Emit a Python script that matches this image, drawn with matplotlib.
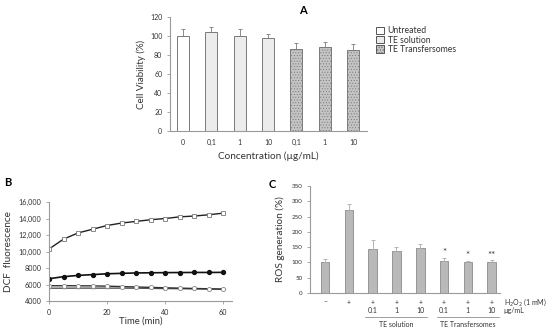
import matplotlib
matplotlib.use("Agg")
import matplotlib.pyplot as plt
import numpy as np
from matplotlib.patches import Patch

plt.rcParams['font.family'] = ['Lato', 'DejaVu Sans']
plt.rcParams['hatch.linewidth'] = 0.4

# Panel A data
a_labels = ["0", "0,1", "1", "10", "0,1", "1", "10"]
a_values = [100, 104, 100, 98, 86, 88, 85]
a_errors = [7, 6, 7, 4, 7, 6, 7]
a_groups = ["Untreated", "TE solution", "TE solution", "TE solution",
            "TE Transfersomes", "TE Transfersomes", "TE Transfersomes"]
a_yticks = [0, 20, 40, 60, 80, 100, 120]

# Panel B data
b_time = [0, 5, 10, 15, 20, 25, 30, 35, 40, 45, 50, 55, 60]
b_h2o2 = [10300, 11500, 12250, 12700, 13150, 13450, 13650, 13850, 14000, 14200, 14300, 14450, 14650]
b_black = [6700, 6950, 7100, 7200, 7300, 7350, 7400, 7420, 7440, 7450, 7460, 7460, 7470]
b_open = [5850, 5850, 5850, 5830, 5800, 5750, 5700, 5650, 5600, 5560, 5520, 5480, 5440]
b_gray = [5550, 5550, 5560, 5560, 5560, 5560, 5550, 5530, 5510, 5490, 5470, 5450, 5430]
b_yticks = [4000, 6000, 8000, 10000, 12000, 14000, 16000]
b_yticklabels = ["4000", "6000", "8000", "10,000", "12,000", "14,000", "16,000"]
b_xticks = [0, 20, 40, 60]

# Panel C data
c_values = [100, 270, 145, 137, 148, 105, 100, 102]
c_errors = [10, 20, 28, 15, 13, 10, 5, 5]
c_h2o2 = ["\u2013", "+", "+", "+", "+", "+", "+", "+"]
c_conc = ["", "", "0.1", "1", "10", "0.1", "1", "10"]
c_stars = ["", "", "", "", "", "*", "*", "**"]
c_yticks = [0, 50, 100, 150, 200, 250, 300, 350]

W, H = 550, 331
fig = plt.figure(figsize=(5.5, 3.31), dpi=100)

def ax_px(l, r, t, b):
    return fig.add_axes([l / W, (H - b) / H, (r - l) / W, (b - t) / H])

axcol = "#9a9a9a"
txtcol = "#333333"

def style(ax):
    for s in ["top", "right"]:
        ax.spines[s].set_visible(False)
    for s in ["left", "bottom"]:
        ax.spines[s].set_color(axcol)
        ax.spines[s].set_linewidth(0.8)
    ax.tick_params(colors=axcol, labelcolor=txtcol, length=2, width=0.6)

# ---- Panel A ----
axA = ax_px(170, 367, 17, 131)
style(axA)
colors = {"Untreated": "#ffffff", "TE solution": "#ececec", "TE Transfersomes": "#c4c4c4"}
hatches = {"Untreated": None, "TE solution": None, "TE Transfersomes": "......"}
x = np.arange(len(a_values))
for i in range(len(a_values)):
    g = a_groups[i]
    axA.bar(x[i], a_values[i], width=0.42, color=colors[g], edgecolor="#7a7a7a",
            linewidth=0.7, hatch=hatches[g])
    axA.errorbar(x[i], a_values[i], yerr=[[0], [a_errors[i]]], fmt="none",
                 ecolor="#7a7a7a", elinewidth=0.6, capsize=1.2, capthick=0.6)
axA.set_xlim(-0.46, 6.49)
axA.set_ylim(0, 120)
axA.set_yticks(a_yticks)
axA.set_xticks(x)
axA.set_xticklabels(a_labels)
axA.tick_params(axis="x", length=0, pad=6)
axA.tick_params(labelsize=5)
axA.set_ylabel("Cell Viability (%)", fontsize=7, color=txtcol, labelpad=3)
axA.set_xlabel("Concentration (\u00b5g/mL)", fontsize=7.2, color=txtcol, labelpad=4)
handles = [Patch(facecolor=colors[g], edgecolor="#555555", linewidth=0.7, hatch=hatches[g], label=g)
           for g in ["Untreated", "TE solution", "TE Transfersomes"]]
axA.legend(handles=handles, loc="upper left", bbox_to_anchor=(1.03, 0.95), frameon=False,
           fontsize=6.2, handlelength=0.9, handleheight=0.9, handletextpad=0.4,
           labelspacing=0.05, borderaxespad=0, labelcolor=txtcol)
fig.text(303 / W, 1 - 10 / H, "A", fontsize=8, fontweight="bold", ha="center", va="center")

# ---- Panel B ----
axB = ax_px(49, 232, 202, 301)
style(axB)
axB.plot(b_time, b_h2o2, color="#222222", lw=1.0, marker="s", ms=3.0, mfc="white", mec="#777777", mew=0.6)
axB.plot(b_time, b_black, color="#111111", lw=1.2, marker="o", ms=2.8, mfc="#111111", mec="#111111")
axB.plot(b_time, b_gray, color="#555555", lw=1.0, marker="_", ms=3, mec="#888888")
axB.plot(b_time, b_open, color="#333333", lw=1.0, marker="o", ms=3.0, mfc="white", mec="#888888", mew=0.6)
axB.set_xlim(0, 63)
axB.set_ylim(4000, 16000)
axB.set_yticks(b_yticks)
axB.set_yticklabels(b_yticklabels)
axB.set_xticks(b_xticks)
axB.tick_params(labelsize=5.2)
axB.set_ylabel("DCF  fluorescence", fontsize=7.2, color=txtcol, labelpad=4)
axB.set_xlabel("Time (min)", fontsize=6.8, color=txtcol, labelpad=1)
fig.text(8 / W, 1 - 183 / H, "B", fontsize=8, fontweight="bold", ha="center", va="center")

# ---- Panel C ----
axC = ax_px(310, 500, 186, 293)
style(axC)
xc = np.arange(len(c_values))
axC.bar(xc, c_values, width=0.36, color="#b9b9b9", edgecolor="#8a8a8a", linewidth=0.6)
axC.errorbar(xc, c_values, yerr=[np.zeros(len(c_errors)), c_errors], fmt="none",
             ecolor="#aaaaaa", elinewidth=0.6, capsize=1.2, capthick=0.6)
axC.set_xlim(-0.63, 7.35)
axC.set_ylim(0, 350)
axC.set_yticks(c_yticks)
axC.set_xticks([])
axC.tick_params(labelsize=4.5)
axC.set_ylabel("ROS generation (%)", fontsize=7.2, color=txtcol, labelpad=5)
tr = axC.get_xaxis_transform()
for i in range(len(c_values)):
    axC.text(xc[i], -0.085, c_h2o2[i], transform=tr,
             ha="center", va="center", fontsize=5, color=txtcol)
    if c_conc[i]:
        axC.text(xc[i], -0.165, c_conc[i], transform=tr,
                 ha="center", va="center", fontsize=5, color=txtcol)
    if c_stars[i]:
        axC.text(xc[i], c_values[i] + c_errors[i] + 2, c_stars[i], ha="center", va="bottom",
                 fontsize=7, color=txtcol)
axC.text(7.5, -0.085, "H$_2$O$_2$ (1 mM)", transform=tr,
         ha="left", va="center", fontsize=5, color=txtcol)
axC.text(7.5, -0.165, "\u00b5g/mL", transform=tr,
         ha="left", va="center", fontsize=5, color=txtcol)
for (s, e, lab) in [(2, 4, "TE solution"), (5, 7, "TE Transfersomes")]:
    axC.plot([s - 0.3, e + 0.3], [-0.22, -0.22], transform=tr,
             color="#777777", lw=0.5, clip_on=False)
    axC.text((s + e) / 2, -0.295, lab, transform=tr,
             ha="center", va="center", fontsize=5, color=txtcol)
fig.text(272 / W, 1 - 184 / H, "C", fontsize=8, fontweight="bold", ha="center", va="center")

fig.savefig("out.png", dpi=100)
